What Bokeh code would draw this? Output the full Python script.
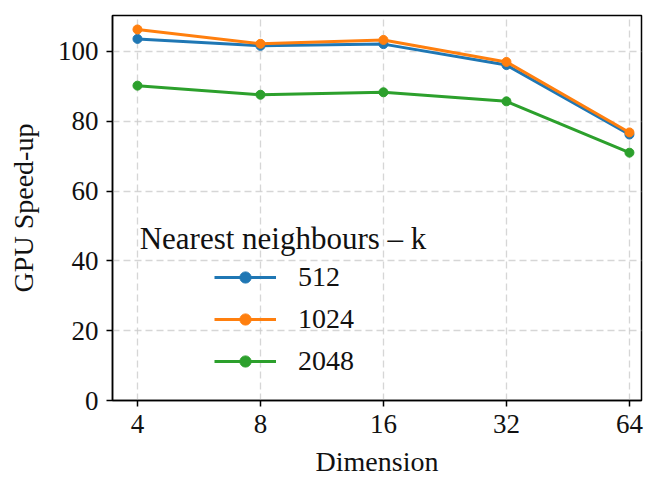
from bokeh.plotting import figure
from bokeh.models import Range1d, FixedTicker, PrintfTickFormatter, Legend, LegendItem, Label
from bokeh.embed import file_html
from bokeh.resources import INLINE

dims = [4, 8, 16, 32, 64]
k_labels = ["512", "1024", "2048"]
speedup_512 = [103.6, 101.6, 102.1, 96.1, 76.2]
speedup_1024 = [106.3, 102.2, 103.3, 97.0, 76.8]
speedup_2048 = [90.2, 87.6, 88.3, 85.7, 71.0]
colors = ["#1f77b4", "#ff7f0e", "#2ca02c"]
x_ticks = [4, 8, 16, 32, 64]
y_ticks = [0, 20, 40, 60, 80, 100]

FONT = "Liberation Serif"

p = figure(width=648, height=479, output_backend="svg", toolbar_location=None,
           x_axis_type="log", x_range=Range1d(3.475, 68.5), y_range=Range1d(0, 110.3),
           min_border_left=112, min_border_right=7, min_border_top=15, min_border_bottom=78)

items = []
for vals, lab, c in zip([speedup_512, speedup_1024, speedup_2048], k_labels, colors):
    r1 = p.line(dims, vals, line_color=c, line_width=3)
    r2 = p.scatter(dims, vals, size=9, fill_color=c, line_color=c)
    items.append(LegendItem(label=lab, renderers=[r1, r2]))

legend = Legend(items=items, location=(102, 23), padding=0, margin=0,
                glyph_width=62, glyph_height=28, label_height=28, label_standoff=22,
                spacing=10, border_line_alpha=0, background_fill_alpha=0,
                label_text_font=FONT, label_text_font_size="28px", label_text_color="#111111")
p.add_layout(legend, "center")

title = Label(x=4.05, y=46.4, text="Nearest neighbours \u2013 k", text_font=FONT,
              text_font_size="31px", text_baseline="alphabetic", text_color="#111111")
p.add_layout(title)

p.xaxis.ticker = FixedTicker(ticks=x_ticks, minor_ticks=[])
p.xaxis.formatter = PrintfTickFormatter(format="%d")
p.yaxis.ticker = FixedTicker(ticks=y_ticks, minor_ticks=[])

for ax in [p.xaxis[0], p.yaxis[0]]:
    ax.axis_line_color = "black"
    ax.axis_line_width = 1.5
    ax.major_tick_line_color = "black"
    ax.major_tick_line_width = 1.5
    ax.major_tick_out = 6
    ax.major_tick_in = 0
    ax.minor_tick_line_color = None
    ax.major_label_text_font = FONT
    ax.major_label_text_font_size = "27px"
    ax.major_label_text_color = "#111111"
    ax.axis_label_text_font = FONT
    ax.axis_label_text_font_size = "28px"
    ax.axis_label_text_font_style = "normal"
    ax.axis_label_text_color = "#111111"

p.xaxis.axis_label = "Dimension"
p.yaxis.axis_label = "GPU Speed-up"
p.xaxis.axis_label_text_line_height = 0.8
p.xaxis.major_label_text_line_height = 0.9
p.xaxis.major_label_standoff = 8
p.yaxis.major_label_standoff = 8
p.xaxis.axis_label_standoff = 10
p.yaxis.axis_label_standoff = 16

p.xgrid.grid_line_color = "#cccccc"
p.ygrid.grid_line_color = "#cccccc"
p.xgrid.grid_line_dash = "7 4"
p.ygrid.grid_line_dash = "7 4"
p.xgrid.grid_line_width = 1.3
p.ygrid.grid_line_width = 1.3
p.xgrid.grid_line_alpha = 0.8
p.ygrid.grid_line_alpha = 0.8

p.outline_line_color = "black"
p.outline_line_width = 1.5
p.outline_line_alpha = 1
p.background_fill_color = "white"
p.border_fill_color = "white"

open("out.html", "w").write(file_html(p, INLINE))
